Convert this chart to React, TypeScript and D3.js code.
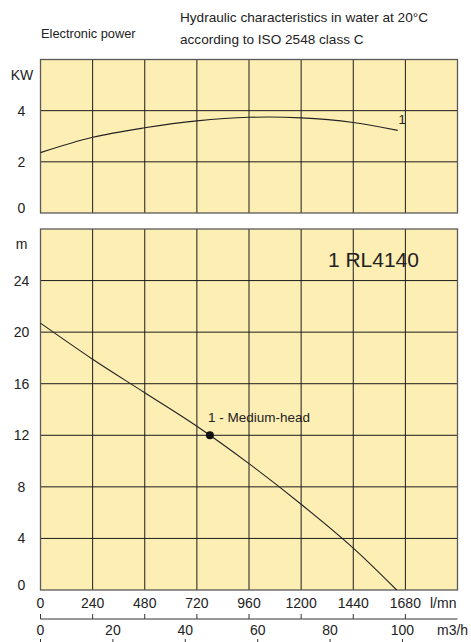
import * as d3 from 'd3';

// flow axis (l/mn) and second axis (m3/h)
const flowTicks = [0, 240, 480, 720, 960, 1200, 1440, 1680];
const cubicTicks = [0, 20, 40, 60, 80, 100];

// top panel: power in KW
const powerTicks = [0, 2, 4];
const powerFlow = [0, 240, 480, 720, 960, 1200, 1440, 1645];
const powerKw = [2.36, 2.96, 3.33, 3.6, 3.74, 3.72, 3.54, 3.23];

// bottom panel: head in m
const headTicks = [0, 4, 8, 12, 16, 20, 24];
const headFlow = [0, 240, 480, 720, 960, 1200, 1440, 1640];
const headM = [20.7, 17.9, 15.3, 12.7, 9.8, 6.65, 3.25, 0];
const dutyPoint = { flow: 780, head: 12, label: '1 - Medium-head' };

const W = 471;
const H = 642;
const FONT = '"Liberation Sans", Arial, sans-serif';
const FILL = '#fdeeb4';
const GRID = '#1c1c1c';
const BORDER = '#5a5a5a';
const INK = '#222';

const x = d3.scaleLinear().domain([0, 1920]).range([40.5, 457.5]);
const yPower = d3.scaleLinear().domain([0, 6]).range([213, 59.5]);
const yHead = d3.scaleLinear().domain([0, 28]).range([590, 229]);
const xCubic = (v: number) => x((v * 1000) / 60);

export default function App() {
  const powerLine = d3
    .line<number>()
    .x((_, i) => x(powerFlow[i]))
    .y((d) => yPower(d))
    .curve(d3.curveCatmullRom)(powerKw);

  const headLine = d3
    .line<number>()
    .x((_, i) => x(headFlow[i]))
    .y((d) => yHead(d))
    .curve(d3.curveCatmullRom)(headM);

  const [x0, x1] = x.range();

  const panel = (y: d3.ScaleLinear<number, number>, ticks: number[]) => {
    const [yb, yt] = y.range();
    return (
      <g>
        <rect x={x0} y={yt} width={x1 - x0} height={yb - yt} fill={FILL} />
        {flowTicks.slice(1).map((t) => (
          <line key={`v${t}`} x1={x(t)} x2={x(t)} y1={yt} y2={yb} stroke={GRID} strokeWidth={1} />
        ))}
        {ticks.slice(1).map((t) => (
          <line key={`h${t}`} x1={x0} x2={x1} y1={y(t)} y2={y(t)} stroke={GRID} strokeWidth={1} />
        ))}
        <rect x={x0} y={yt} width={x1 - x0} height={yb - yt} fill="none" stroke={BORDER} strokeWidth={1.3} />
        {ticks.map((t) => (
          <text
            key={`l${t}`}
            x={21.5}
            y={(t === 0 ? y(t) - 5 : y(t)) + 5}
            textAnchor="middle"
            fontSize={14}
            fill={INK}
          >
            {t}
          </text>
        ))}
      </g>
    );
  };

  return (
    <svg width={W} height={H} style={{ display: 'block', position: 'absolute', left: 0, top: 0 }} fontFamily={FONT}>
      <rect width={W} height={H} fill="#ffffff" />
      <text x={41} y={37.5} fontSize={12.8} fill={INK}>Electronic power</text>
      <text x={180} y={21.5} fontSize={13.6} fill={INK}>Hydraulic characteristics in water at 20°C</text>
      <text x={180} y={43.5} fontSize={13.6} fill={INK}>according to ISO 2548 class C</text>

      {panel(yPower, powerTicks)}
      <text x={22} y={80} textAnchor="middle" fontSize={14} fill={INK}>KW</text>
      <path d={powerLine ?? ''} fill="none" stroke={INK} strokeWidth={1.1} />
      <text x={x(1665)} y={124} textAnchor="middle" fontSize={13} fill={INK}>1</text>

      {panel(yHead, headTicks)}
      <text x={21.5} y={249} textAnchor="middle" fontSize={14} fill={INK}>m</text>
      <text x={x(1533)} y={267} textAnchor="middle" fontSize={21} fill={INK}>1 RL4140</text>
      <path d={headLine ?? ''} fill="none" stroke={INK} strokeWidth={1.1} />
      <circle cx={x(dutyPoint.flow)} cy={yHead(dutyPoint.head)} r={4} fill="#111" />
      <text x={x(dutyPoint.flow) - 2} y={yHead(dutyPoint.head) - 13} fontSize={13.5} fill={INK}>
        {dutyPoint.label}
      </text>

      {/* l/mn axis */}
      {flowTicks.map((t) => (
        <text key={`f${t}`} x={x(t)} y={608} textAnchor="middle" fontSize={14} fill={INK}>{t}</text>
      ))}
      <text x={430} y={608} fontSize={14} fill={INK}>l/mn</text>

      {/* m3/h axis */}
      <line x1={x0} x2={x1} y1={619} y2={619} stroke="#333" strokeWidth={1} />
      {flowTicks.map((t) => (
        <line key={`ft${t}`} x1={x(t)} x2={x(t)} y1={614} y2={619} stroke="#333" strokeWidth={1} />
      ))}
      {cubicTicks.map((t) => (
        <text key={`c${t}`} x={xCubic(t)} y={635} textAnchor="middle" fontSize={14} fill={INK}>{t}</text>
      ))}
      <text x={437} y={635} fontSize={14} fill={INK}>m3/h</text>
      {cubicTicks.map((t) => (
        <line key={`ct${t}`} x1={xCubic(t)} x2={xCubic(t)} y1={639} y2={645} stroke="#333" strokeWidth={1} />
      ))}
    </svg>
  );
}
